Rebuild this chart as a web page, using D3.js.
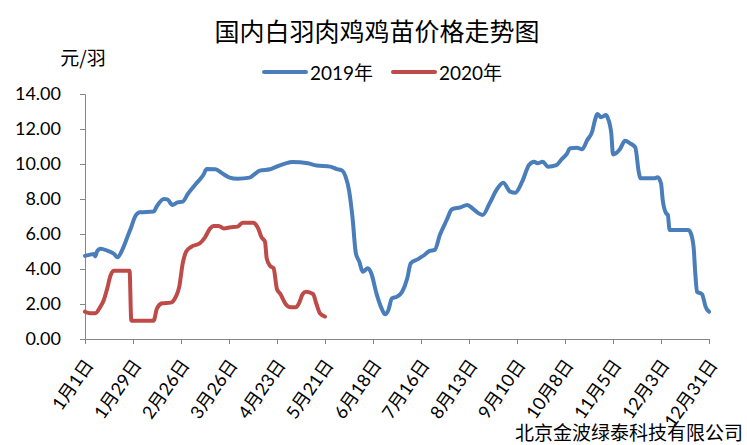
<!DOCTYPE html>
<html>
<head>
<meta charset="utf-8">
<script src="https://cdn.jsdelivr.net/npm/d3@7"></script>
<style>
  html, body { margin: 0; padding: 0; background: #fff; }
  svg { display: block; }
  text { fill: #000; }
</style>
</head>
<body>
<svg id="chart" width="747" height="445"></svg>
<script>
// ---- data (day of year index, 0 = Jan 1) ----
const titleText = "国内白羽肉鸡鸡苗价格走势图";
const unitText = "元/羽";
const sourceText = "北京金波绿泰科技有限公司";
const seriesNames = ["2019年", "2020年"];
const seriesColors = ["#4a7ebb", "#be4b48"];

const tickDays = [0, 28, 56, 84, 112, 140, 168, 196, 224, 252, 280, 308, 336, 364];
const tickLabels = ["1月1日", "1月29日", "2月26日", "3月26日", "4月23日", "5月21日", "6月18日",
  "7月16日", "8月13日", "9月10日", "10月8日", "11月5日", "12月3日", "12月31日"];
const yTicks = [0, 2, 4, 6, 8, 10, 12, 14];

const days2019 = [0, 3, 5, 6, 7, 9, 13, 17, 19, 22, 25, 27, 29, 32, 40, 42, 46, 48, 51, 54, 57, 60, 65, 69, 71,
  76, 80, 84, 89, 96, 99, 102, 108, 114, 119, 121, 130, 135, 143, 147, 150, 152, 154, 156, 158, 160, 162,
  165, 167, 170, 173, 175, 177, 179, 182, 185, 188, 190, 194, 198, 201, 204, 207, 211, 214, 219, 223, 226,
  229, 232, 236, 240, 244, 248, 251, 255, 259, 262, 264, 267, 270, 275, 278, 281, 283, 287, 290, 293, 296,
  297, 299, 301, 304, 305, 307, 308, 312, 315, 318, 321, 323, 324, 332, 334, 336, 337, 339, 340, 341, 352,
  353, 355, 356, 357, 360, 361, 362, 364];
const price2019 = [4.75, 4.82, 4.86, 4.72, 5.0, 5.16, 5.05, 4.86, 4.67, 5.15, 5.9, 6.4, 6.95, 7.24, 7.28, 7.6,
  8.0, 7.98, 7.66, 7.81, 7.85, 8.29, 8.9, 9.37, 9.71, 9.7, 9.47, 9.24, 9.16, 9.22, 9.43, 9.62, 9.7, 9.94,
  10.09, 10.12, 10.04, 9.91, 9.85, 9.71, 9.62, 9.28, 8.51, 6.99, 4.9, 4.42, 3.85, 4.04, 3.75, 2.61, 1.75,
  1.41, 1.66, 2.32, 2.42, 2.7, 3.47, 4.32, 4.55, 4.8, 5.03, 5.09, 5.94, 6.8, 7.41, 7.52, 7.66, 7.47, 7.22,
  7.09, 7.75, 8.51, 8.93, 8.42, 8.36, 8.99, 9.94, 10.13, 10.04, 10.13, 9.85, 9.94, 10.27, 10.57, 10.9,
  10.93, 10.84, 11.37, 11.9, 12.32, 12.86, 12.67, 12.8, 12.61, 11.75, 10.55, 10.84, 11.33, 11.18, 10.95,
  9.56, 9.18, 9.18, 9.24, 8.9, 7.94, 7.18, 7.09, 6.23, 6.23, 6.13, 5.27, 3.75, 2.7, 2.55, 2.23, 1.85, 1.56];

const days2020 = [0, 3, 6, 9, 11, 13, 15, 17, 26, 27, 40, 42, 45, 50, 53, 55, 57, 59, 62, 67, 70, 73, 75, 78,
  81, 85, 89, 92, 98, 101, 103, 105, 106, 108, 110, 112, 114, 117, 120, 123, 125, 127, 129, 133, 135, 137, 140];
const price2020 = [1.56, 1.47, 1.47, 1.85, 2.23, 2.9, 3.66, 3.9, 3.9, 1.05, 1.05, 1.75, 2.04, 2.08, 2.42, 2.99,
  4.32, 4.99, 5.27, 5.47, 5.81, 6.32, 6.46, 6.46, 6.32, 6.38, 6.42, 6.65, 6.65, 6.32, 5.81, 5.56, 4.61, 4.17,
  4.04, 2.84, 2.57, 2.0, 1.81, 1.81, 2.08, 2.57, 2.7, 2.57, 2.0, 1.47, 1.28];

// ---- drawing ----
const svg = d3.select("#chart");
const cjk = "'Noto Sans CJK SC', sans-serif";
const num = "Lato, 'Noto Sans CJK SC', sans-serif";
const axisColor = "#868686";

const x = d3.scaleLinear().domain([0, 364]).range([85, 709]);
const y = d3.scaleLinear().domain([0, 14]).range([339, 94]);

// title
svg.append("text").attr("x", 377).attr("y", 41).attr("text-anchor", "middle")
  .style("font-family", cjk).style("font-size", "25px").text(titleText);

// unit
svg.append("text").attr("x", 83).attr("y", 65).attr("text-anchor", "middle")
  .style("font-family", cjk).style("font-size", "19px").text(unitText);

// y axis
const yAxis = d3.axisLeft(y).tickValues(yTicks).tickSize(5).tickPadding(19)
  .tickFormat(d3.format(".2f"));
const gy = svg.append("g").attr("transform", "translate(85,0)").call(yAxis);
gy.select(".domain").attr("stroke", axisColor).attr("d", "M-5,94.5H0.5V339.5");
gy.selectAll(".tick line").attr("stroke", axisColor);
gy.selectAll(".tick text").style("font-family", num).style("font-size", "18px").attr("fill", "#000");

// x axis
const xAxis = d3.axisBottom(x).tickValues(tickDays).tickSize(5).tickFormat((d, i) => tickLabels[i]);
const gx = svg.append("g").attr("transform", "translate(0,339)").call(xAxis);
gx.select(".domain").attr("stroke", axisColor).attr("d", "M85,0.5H710");
gx.selectAll(".tick line").attr("stroke", axisColor);
gx.selectAll(".tick text")
  .style("font-family", num).style("font-size", "18px").attr("fill", "#000")
  .attr("text-anchor", "end").attr("dominant-baseline", "central")
  .attr("y", 0).attr("dy", 0)
  .attr("transform", "translate(3,22) rotate(-55)");

// lines
const line = d3.line().x(d => x(d[0])).y(d => y(d[1])).curve(d3.curveMonotoneX);
const series = [d3.zip(days2019, price2019), d3.zip(days2020, price2020)];
series.forEach((s, i) => {
  svg.append("path").datum(s).attr("d", line)
    .attr("fill", "none").attr("stroke", seriesColors[i])
    .attr("stroke-width", 4).attr("stroke-linejoin", "round").attr("stroke-linecap", "round");
});

// legend
const legendX = [264, 393];
seriesNames.forEach((name, i) => {
  const g = svg.append("g").attr("transform", `translate(${legendX[i]},72)`);
  g.append("line").attr("x1", 0).attr("x2", 42).attr("y1", 0).attr("y2", 0)
    .attr("stroke", seriesColors[i]).attr("stroke-width", 4).attr("stroke-linecap", "round");
  g.append("text").attr("x", 46).attr("y", 0).attr("dominant-baseline", "central")
    .style("font-family", num).style("font-size", "19px").text(name);
});

// source
svg.append("text").attr("x", 743).attr("y", 440).attr("text-anchor", "end")
  .style("font-family", cjk).style("font-size", "19px").text(sourceText);
</script>
</body>
</html>
